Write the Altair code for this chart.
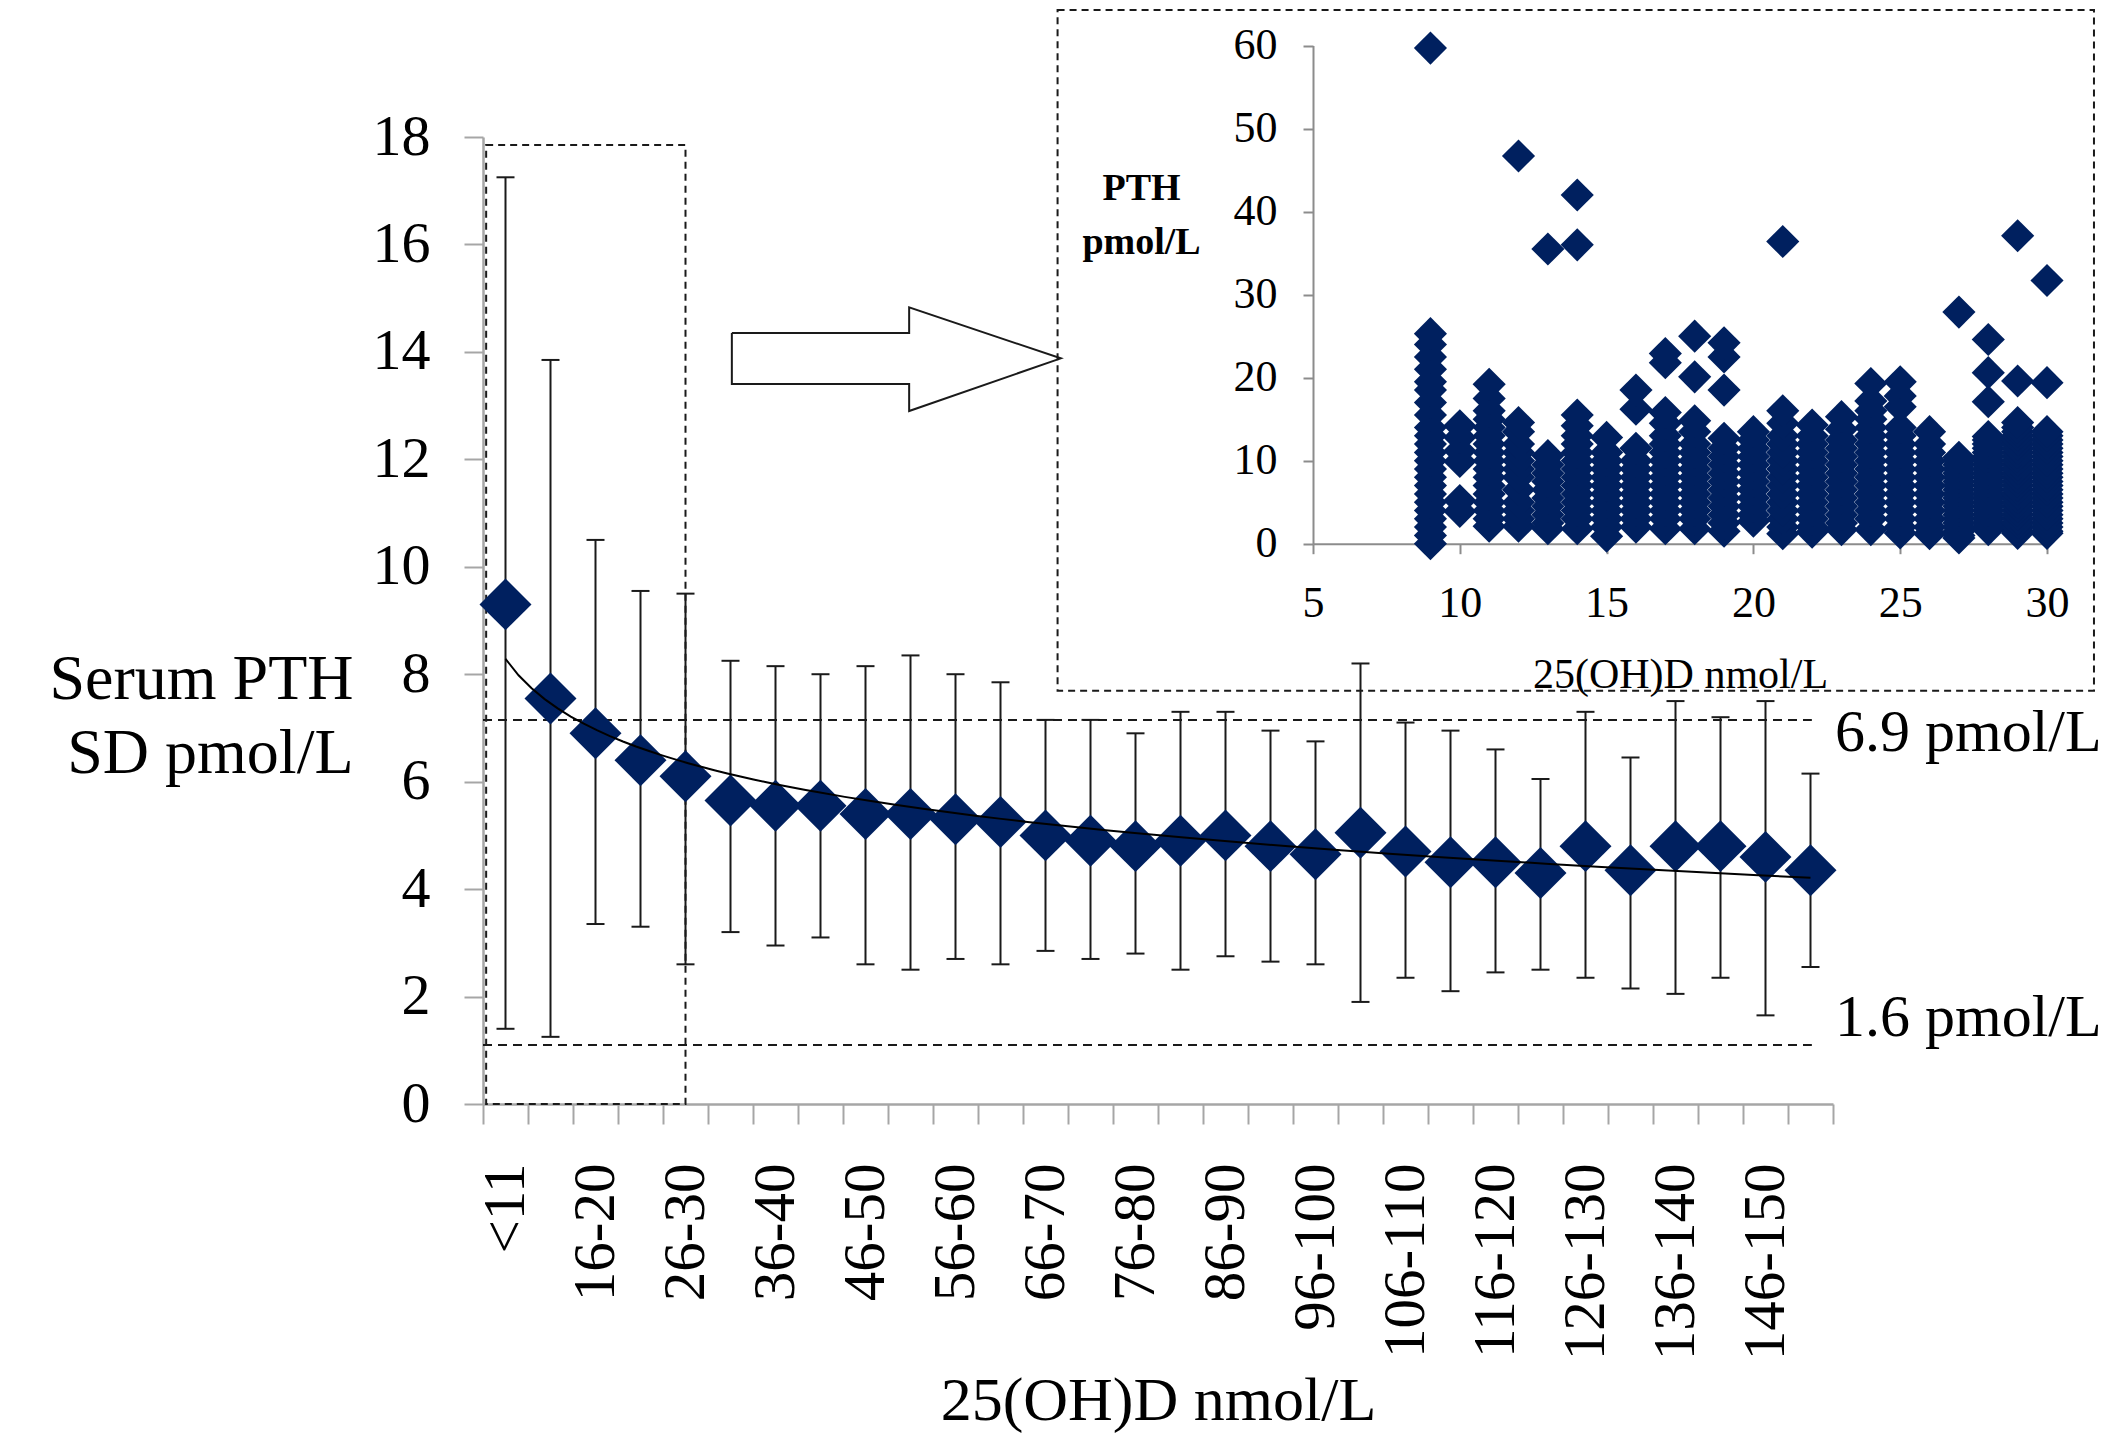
import json
import pandas as pd
import altair as alt

# ---------------- data ----------------
categories = ["<11", "11-15", "16-20", "21-25", "26-30", "31-35", "36-40", "41-45",
              "46-50", "51-55", "56-60", "61-65", "66-70", "71-75", "76-80", "81-85",
              "86-90", "91-95", "96-100", "101-105", "106-110", "111-115", "116-120",
              "121-125", "126-130", "131-135", "136-140", "141-145", "146-150", ">150"]
pth_mean = [9.3, 7.55, 6.9, 6.4, 6.1, 5.65, 5.55, 5.55, 5.4, 5.4, 5.3, 5.25, 5.0, 4.9, 4.8,
            4.9, 5.0, 4.8, 4.65, 5.05, 4.7, 4.5, 4.5, 4.3, 4.8, 4.35, 4.8, 4.8, 4.6, 4.35]
pth_upper = [17.25, 13.85, 10.5, 9.55, 9.5, 8.25, 8.15, 8.0, 8.15, 8.35, 8.0, 7.85, 7.15, 7.15, 6.9,
             7.3, 7.3, 6.95, 6.75, 8.2, 7.1, 6.95, 6.6, 6.05, 7.3, 6.45, 7.5, 7.2, 7.5, 6.15]
pth_lower = [1.4, 1.25, 3.35, 3.3, 2.6, 3.2, 2.95, 3.1, 2.6, 2.5, 2.7, 2.6, 2.85, 2.7, 2.8,
             2.5, 2.75, 2.65, 2.6, 1.9, 2.35, 2.1, 2.45, 2.5, 2.35, 2.15, 2.05, 2.35, 1.65, 2.55]

ref_line_levels = [7.15, 1.1]
ref_label_levels = [6.9, 1.6]
ref_labels = ["6.9 pmol/L", "1.6 pmol/L"]

# inset scatter: PTH (pmol/L) values per 25(OH)D value (nmol/L)
inset_columns = {
    9: [0.0, 1.0, 2.0, 3.0, 4.0, 5.0, 6.0, 7.0, 8.0, 9.0, 10.0, 11.0, 12.0, 13.0, 14.0,
        15.5, 17.0, 18.5, 19.5, 21.0, 22.5, 24.0, 25.3, 59.7],
    10: [3.9, 5.2, 9.9, 11.2, 12.8, 14.2],
    11: [2.1, 3.0, 4.0, 5.0, 6.0, 7.0, 8.0, 9.0, 10.0, 11.0, 12.0, 13.0, 14.0, 15.0, 16.0, 17.5, 19.2],
    12: [2.1, 3.0, 4.0, 5.0, 6.5, 8.0, 9.0, 10.0, 11.0, 12.0, 13.5, 14.6, 46.7],
    13: [1.8, 2.5, 3.5, 4.5, 5.5, 6.5, 7.5, 8.5, 9.5, 10.6, 35.5],
    14: [1.8, 3.0, 4.0, 5.0, 6.0, 7.0, 8.0, 9.0, 10.0, 11.0, 12.0, 13.0, 14.2, 15.5, 36.0, 42.0],
    15: [0.9, 2.0, 3.0, 4.0, 5.0, 6.0, 7.0, 8.0, 9.0, 10.0, 11.0, 12.8],
    16: [2.0, 3.0, 4.0, 5.0, 6.0, 7.0, 8.0, 9.0, 10.0, 11.5, 16.2, 18.5],
    17: [1.8, 3.0, 4.0, 5.0, 6.0, 7.0, 8.0, 9.0, 10.0, 11.0, 12.0, 13.0, 14.5, 15.8, 21.8, 22.9],
    18: [1.8, 3.0, 4.0, 5.0, 6.0, 7.0, 8.0, 9.0, 10.0, 11.0, 12.0, 13.5, 14.8, 20.1, 25.0],
    19: [1.5, 2.5, 3.5, 4.5, 5.5, 6.5, 7.5, 8.5, 9.5, 10.5, 11.5, 12.7, 18.5, 22.5, 24.2],
    20: [2.7, 3.5, 4.5, 5.5, 6.5, 7.5, 8.5, 9.5, 10.5, 11.5, 12.5, 13.5],
    21: [1.2, 2.0, 3.0, 4.0, 5.0, 6.0, 7.0, 8.0, 9.0, 10.0, 11.0, 12.0, 13.0, 14.5, 16.0, 36.4],
    22: [1.4, 2.0, 3.0, 4.0, 5.0, 6.0, 7.0, 8.0, 9.0, 10.0, 11.0, 12.0, 13.0, 14.3],
    23: [1.7, 2.5, 3.5, 4.5, 5.5, 6.5, 7.5, 8.5, 9.5, 10.5, 11.5, 12.5, 13.8, 15.3],
    24: [1.7, 3.0, 4.0, 5.0, 6.0, 7.0, 8.0, 9.0, 10.0, 11.0, 12.0, 13.0, 14.0, 15.0, 16.0, 17.2, 19.3],
    25: [1.3, 2.0, 3.0, 4.0, 5.0, 6.0, 7.0, 8.0, 9.0, 10.0, 11.0, 12.0, 13.0, 14.0, 16.5, 17.8, 19.5],
    26: [1.2, 2.0, 3.0, 4.0, 5.0, 6.0, 7.0, 8.0, 9.0, 10.0, 11.0, 12.0, 13.5],
    27: [0.7, 1.0, 1.5, 2.0, 2.5, 3.0, 3.5, 4.0, 4.5, 5.0, 5.5, 6.0, 6.5, 7.0, 7.5, 8.0,
         8.5, 9.0, 9.5, 10.0, 10.4, 27.9],
    28: [1.7, 2.0, 2.5, 3.0, 3.5, 4.0, 4.5, 5.0, 5.5, 6.0, 6.5, 7.0, 7.5, 8.0, 8.5, 9.0,
         9.5, 10.0, 10.5, 11.0, 11.5, 12.0, 12.5, 12.9, 17.1, 20.6, 24.6],
    29: [1.25, 1.5, 2.0, 2.5, 3.0, 3.5, 4.0, 4.5, 5.0, 5.5, 6.0, 6.5, 7.0, 7.5, 8.0, 8.5,
         9.0, 9.5, 10.0, 10.5, 11.0, 11.5, 12.0, 12.5, 13.0, 13.5, 14.0, 14.6, 19.6, 37.1],
    30: [1.25, 1.5, 2.0, 2.5, 3.0, 3.5, 4.0, 4.5, 5.0, 5.5, 6.0, 6.5, 7.0, 7.5, 8.0, 8.5,
         9.0, 9.5, 10.0, 10.5, 11.0, 11.5, 12.0, 12.5, 13.0, 13.5, 19.4, 31.7],
}

# ---------------- layout / style ----------------
W, H = 1350, 967
PAD = {"left": 483, "top": 137, "right": 272, "bottom": 334}
FONT = "Liberation Serif"
NAVY = "#00205f"
GRAY = "#a6a6a6"
INK = "#1a1a1a"
N = len(categories)
HALF_BAND = W / N / 2

main_df = pd.DataFrame({
    "idx": list(range(1, N + 1)),
    "label": categories,
    "mean": pth_mean,
    "hi": pth_upper,
    "lo": pth_lower,
})

inset_rows = [{"x": k, "pth": v} for k, vals in inset_columns.items() for v in vals]
inset_df = pd.DataFrame(inset_rows)

ref_df = pd.DataFrame({
    "x0": [0.5, 0.5], "x1": [30.03, 30.03], "y": ref_line_levels,
    "tx": [30.5, 30.5], "ly": ref_label_levels, "text": ref_labels,
})
# annotation shapes (main-chart data coordinates)
zoom_box = pd.DataFrame({"x0": [0.57], "x1": [5.0], "y0": [0.0], "y1": [17.85]})
arrow_df = pd.DataFrame({
    "ax": [6.03, 9.97, 9.97, 13.34, 9.97, 9.97, 6.03, 6.03],
    "ay": [14.35, 14.35, 14.83, 13.88, 12.9, 13.4, 13.4, 14.35],
    "o": list(range(8)),
})
# inset frame (inset data coordinates)
inset_box = pd.DataFrame({"x0": [-3.7], "x1": [31.6], "y0": [-17.7], "y1": [64.3]})

main_x = alt.Scale(domain=[0.5, N + 0.5], nice=False, zero=False)
main_y = alt.Scale(domain=[0, 18], nice=False, zero=False)
inset_x = alt.Scale(domain=[5, 30], range=[830, 1564], nice=False, zero=False)
inset_y = alt.Scale(domain=[0, 60], range=[406.7, -91.4], nice=False, zero=False)

label_expr = ("(datum.value + 0.5) % 2 == 1 && datum.value < {lim} ? {arr}[datum.value - 0.5] : ''"
              .format(lim=N - 0.4, arr=json.dumps(categories)))

x_axis = alt.Axis(
    orient="bottom",
    values=[i + 0.5 for i in range(N + 1)], labelExpr=label_expr, labelOffset=HALF_BAND,
    labelAngle=270, labelAlign="right", labelBaseline="middle", labelPadding=39,
    labelFontSize=59, labelFont=FONT, labelColor="black", labelFlush=False, labelOverlap=False,
    labelLimit=600,
    tickSize=20, tickColor=GRAY, tickWidth=2, domainColor=GRAY, domainWidth=2.5, grid=False,
    title="25(OH)D nmol/L", titleFont=FONT, titleFontSize=62, titleFontWeight="normal",
    titleColor="black", titleY=296, titleBaseline="middle",
)
y_axis = alt.Axis(
    orient="left",
    values=list(range(0, 19, 2)), tickSize=19, tickColor=GRAY, tickWidth=2,
    domainColor=GRAY, domainWidth=2.5, labelFontSize=58, labelFont=FONT, labelColor="black",
    labelPadding=34, grid=False,
    title=["Serum PTH", "SD pmol/L"], titleAngle=0, titleAlign="right", titleBaseline="top",
    titleX=-130, titleY=510, titleFontSize=64, titleFont=FONT, titleFontWeight="normal",
    titleLineHeight=74, titleColor="black", titleLimit=600,
)

dash = [9, 6]


def mx(field, axis=None):
    if axis is None:
        return alt.X(field, scale=main_x, axis=None)
    return alt.X(field, scale=main_x, axis=axis)


def my(field, axis=None):
    if axis is None:
        return alt.Y(field, scale=main_y, axis=None)
    return alt.Y(field, scale=main_y, axis=axis)


box_layer = alt.Chart(zoom_box).mark_rect(
    fillOpacity=0, stroke=INK, strokeDash=[7, 5], strokeWidth=2
).encode(x=mx("x0:Q"), x2="x1:Q", y=my("y0:Q"), y2="y1:Q")

ref_rules = alt.Chart(ref_df).mark_rule(strokeDash=dash, strokeWidth=2, color=INK).encode(
    x=mx("x0:Q"), x2="x1:Q", y=my("y:Q"))

ref_text = alt.Chart(ref_df).mark_text(
    align="left", baseline="middle", dx=2, font=FONT, fontSize=60, color="black"
).encode(x=mx("tx:Q"), y=my("ly:Q"), text="text:N")

arrow = alt.Chart(arrow_df).mark_line(color=INK, strokeWidth=2).encode(
    x=mx("ax:Q"), y=my("ay:Q"), order="o:Q")

err = alt.Chart(main_df).mark_rule(color=INK, strokeWidth=2).encode(
    x=mx("idx:Q"), y=my("lo:Q"), y2="hi:Q")

caps = alt.Chart(main_df).transform_calculate(cl="datum.idx - 0.2", cr="datum.idx + 0.2")
cap_hi = caps.mark_rule(color=INK, strokeWidth=2).encode(x=mx("cl:Q"), x2="cr:Q", y=my("hi:Q"))
cap_lo = caps.mark_rule(color=INK, strokeWidth=2).encode(x=mx("cl:Q"), x2="cr:Q", y=my("lo:Q"))

points = alt.Chart(main_df).mark_point(
    shape="diamond", filled=True, size=2700, color=NAVY, opacity=1
).encode(x=mx("idx:Q", x_axis), y=my("mean:Q", y_axis))

trend = alt.Chart(main_df).transform_regression("idx", "mean", method="log").mark_line(
    color="black", strokeWidth=2
).encode(x=mx("idx:Q"), y=my("mean:Q"))

inset_x_axis = alt.Axis(
    orient="bottom", offset=-560.3, values=[5, 10, 15, 20, 25, 30], tickSize=10,
    tickColor="#8c8c8c", tickWidth=2, domainColor="#8c8c8c", domainWidth=2,
    labelFontSize=44, labelFont=FONT, labelColor="black", labelPadding=28,
    labelFlush=False, grid=False,
    title="25(OH)D nmol/L", titleFont=FONT, titleFontSize=42, titleFontWeight="normal",
    titleColor="black", titleY=131, titleBaseline="middle",
)
inset_y_axis = alt.Axis(
    orient="left", offset=-830, values=[0, 10, 20, 30, 40, 50, 60], tickSize=10,
    tickColor="#8c8c8c", tickWidth=2, domainColor="#8c8c8c", domainWidth=2,
    labelFontSize=44, labelFont=FONT, labelColor="black", labelPadding=26, grid=False,
    title=["PTH", "pmol/L"], titleAngle=0, titleAlign="center", titleBaseline="top",
    titleX=-172, titleY=32, titleFont=FONT, titleFontSize=38, titleFontWeight="bold",
    titleLineHeight=54, titleColor="black",
)
inset_frame = alt.Chart(inset_box).mark_rect(
    fillOpacity=0, stroke=INK, strokeDash=[7, 5], strokeWidth=2
).encode(
    x=alt.X("x0:Q", scale=inset_x, axis=None), x2="x1:Q",
    y=alt.Y("y0:Q", scale=inset_y, axis=None), y2="y1:Q",
)
inset_pts = alt.Chart(inset_df).mark_point(
    shape="diamond", filled=True, size=1100, color=NAVY, opacity=1
).encode(
    x=alt.X("x:Q", scale=inset_x, axis=inset_x_axis),
    y=alt.Y("pth:Q", scale=inset_y, axis=inset_y_axis),
)

chart = alt.layer(
    box_layer, ref_rules, ref_text, arrow, err, cap_hi, cap_lo, points, trend,
    inset_frame, inset_pts,
).resolve_scale(
    x="independent", y="independent"
).properties(
    width=W, height=H, padding=PAD, autosize=alt.AutoSizeParams(type="none"),
    background="white",
).configure_view(stroke="transparent")

chart.save("out.html", embed_options={"renderer": "svg", "actions": False})
